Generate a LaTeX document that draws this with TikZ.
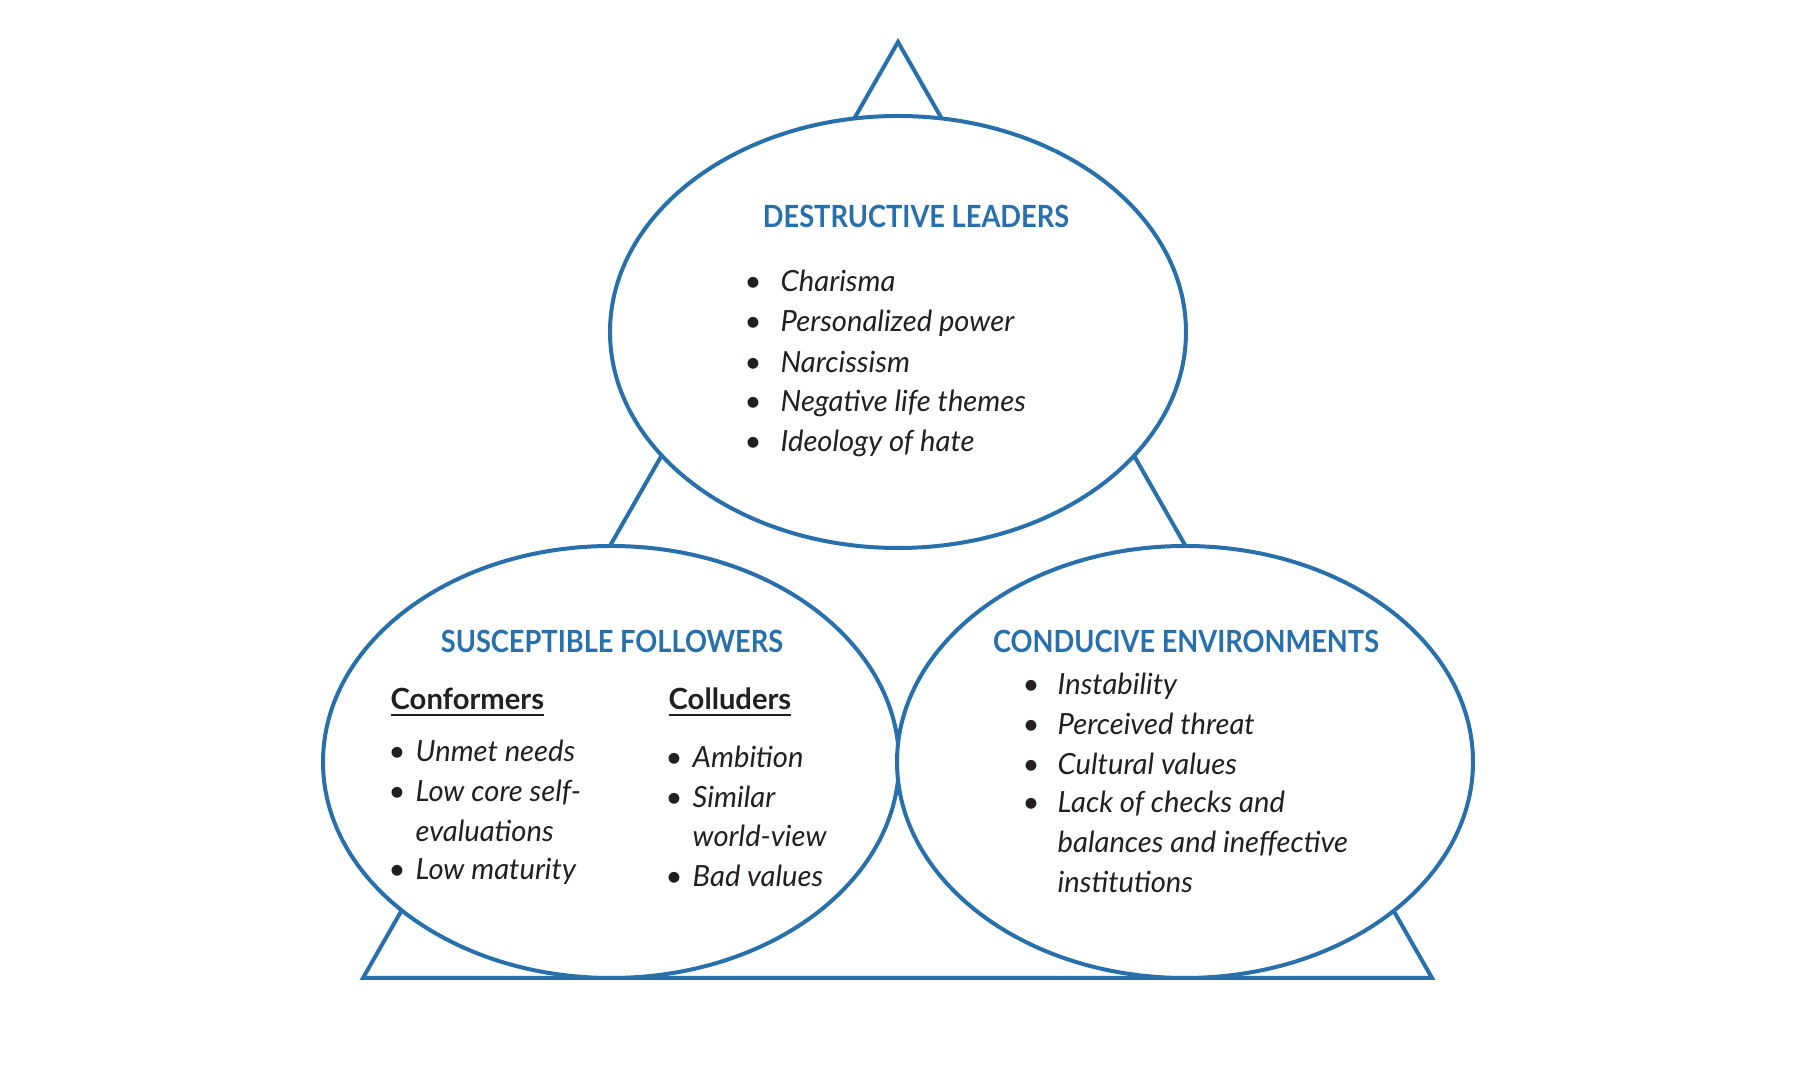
\documentclass[tikz,border=0pt]{standalone}
\usepackage{fontspec}
\setmainfont{Lato}
\newfontfamily\headfont{Lato}[FakeStretch=0.89]
\usetikzlibrary{shapes.geometric}
\definecolor{triblue}{RGB}{40,112,172}
\definecolor{bodytext}{RGB}{35,31,32}

\begin{document}
\begin{tikzpicture}[
    bubble/.style={ellipse, draw=triblue, line width=0.4mm, fill=white, minimum width=5.76cm, minimum height=4.32cm, inner sep=0pt},
    headnode/.style={font=\fontsize{8.7}{10}\selectfont\headfont\bfseries, text=triblue, anchor=base, inner sep=0pt},
    subnode/.style={font=\fontsize{8.3}{10}\selectfont\bfseries, text=bodytext, anchor=base west, inner sep=0pt},
    itemnode/.style={font=\fontsize{8.3}{10}\selectfont\itshape, text=bodytext, anchor=base west, inner sep=0pt},
    dotnode/.style={font=\fontsize{8.3}{10}\selectfont, text=bodytext, anchor=base, inner sep=0pt}
]
% Page
\path[use as bounding box, fill=white] (0,0) rectangle (17.98,10.74);
% Triangle behind the bubbles
\coordinate (apex) at (8.98,10.32);
\coordinate (baseL) at (3.63,0.96);
\coordinate (baseR) at (14.32,0.96);
\draw[triblue, line width=0.4mm] (apex) -- (baseL) -- (baseR) -- cycle;
% Bubbles
\node[bubble] (leaders) at (8.98,7.42) {};
\node[bubble] (followers) at (6.11,3.12) {};
\node[bubble] (environments) at (11.85,3.12) {};
% Headings
\node[headnode] (leadhead) at (9.16,8.46) {DESTRUCTIVE LEADERS};
\node[headnode] (follhead) at (6.12,4.21) {SUSCEPTIBLE FOLLOWERS};
\node[headnode] (envhead) at (11.86,4.21) {CONDUCIVE ENVIRONMENTS};
\node[subnode] (conf) at (3.90,3.64) {\underline{Conformers}};
\node[subnode] (coll) at (6.68,3.64) {\underline{Colluders}};
% Leaders list
\foreach \y/\txt [count=\i] in {7.82/Charisma, 7.42/Personalized power, 7.01/Narcissism, 6.62/Negative life themes, 6.22/Ideology of hate} {
    \node[dotnode] (leaddot\i) at (7.53,\y) {\textbullet};
    \node[itemnode] (lead\i) at (7.80,\y) {\txt};
}
% Conformers list
\foreach \y/\txt/\b [count=\i] in {3.12/Unmet needs/1, 2.72/Low core self-/1, 2.32/evaluations/0, 1.94/Low maturity/1} {
    \node[itemnode] (confitem\i) at (4.15,\y) {\txt};
    \ifnum\b=1 \node[dotnode] (confdot\i) at (3.97,\y) {\textbullet}; \fi
}
% Colluders list
\foreach \y/\txt/\b [count=\i] in {3.06/Ambition/1, 2.66/Similar/1, 2.27/world-view/0, 1.87/Bad values/1} {
    \node[itemnode] (collitem\i) at (6.92,\y) {\txt};
    \ifnum\b=1 \node[dotnode] (colldot\i) at (6.74,\y) {\textbullet}; \fi
}
% Environments list
\foreach \y/\txt/\b [count=\i] in {3.79/Instability/1, 3.39/Perceived threat/1, 2.99/Cultural values/1, 2.61/Lack of checks and/1, 2.21/balances and ineffective/0, 1.81/institutions/0} {
    \node[itemnode] (envitem\i) at (10.57,\y) {\txt};
    \ifnum\b=1 \node[dotnode] (envdot\i) at (10.31,\y) {\textbullet}; \fi
}
\end{tikzpicture}
\end{document}
